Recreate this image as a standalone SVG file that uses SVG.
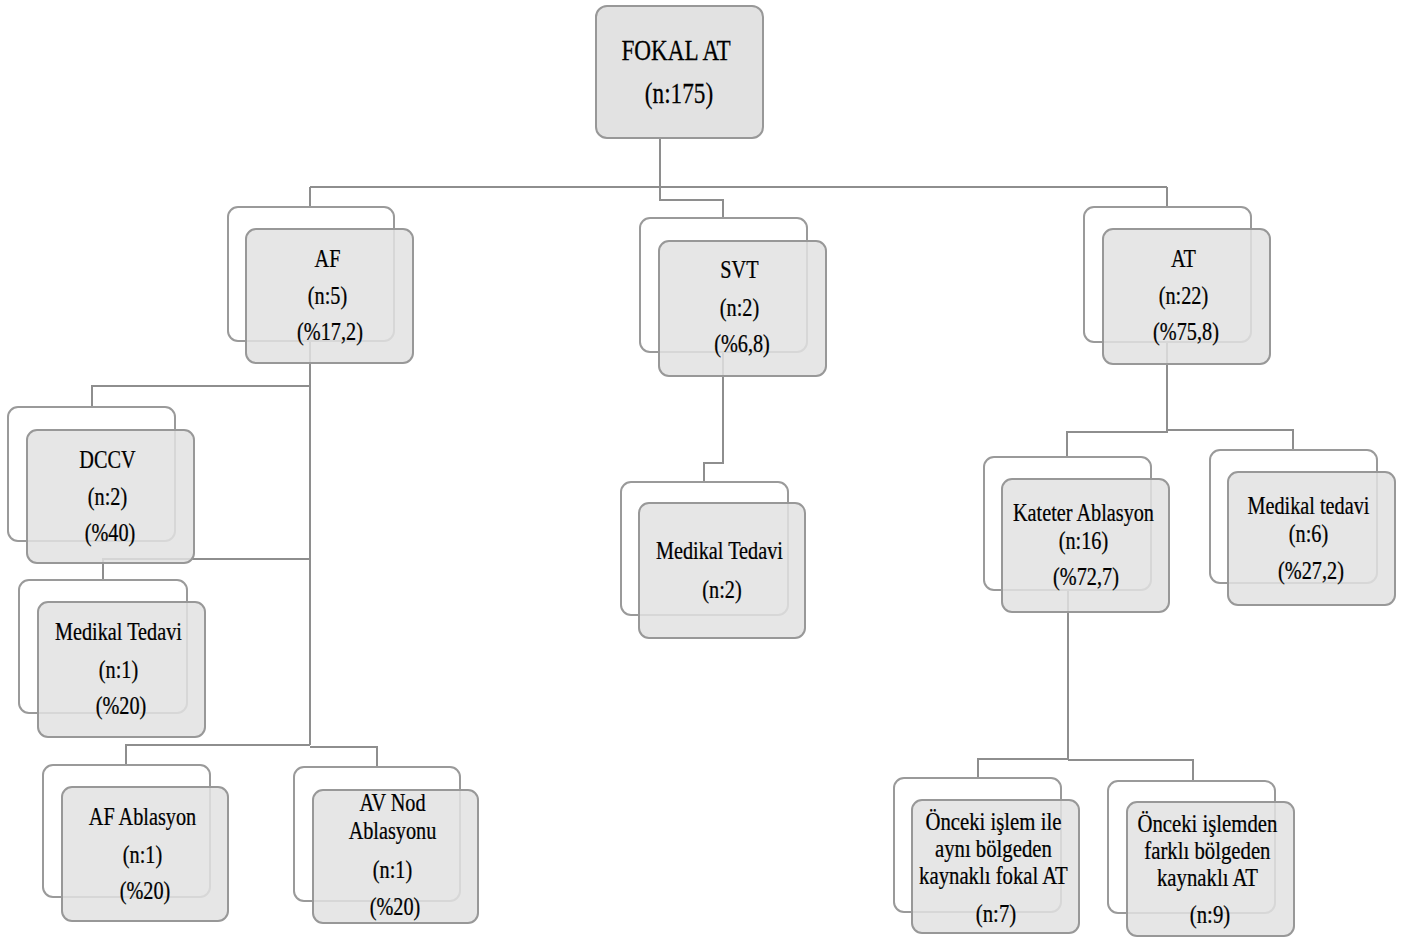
<svg xmlns="http://www.w3.org/2000/svg" width="1407" height="940" viewBox="0 0 1407 940">
  <style>
    .bg { fill: #ffffff; }
    .back { fill: #ffffff; stroke: #9a9a9a; stroke-width: 2; }
    .front { fill: #e2e2e2; fill-opacity: 0.85; stroke: #989898; stroke-width: 2; }
    .root { fill: #e2e2e2; stroke: #989898; stroke-width: 2; }
    .link { fill: none; stroke: #8e8e8e; stroke-width: 2; }
    .t { font-family: "Liberation Serif", "Times New Roman", serif; font-size: 25px; fill: #000000; stroke: #000000; stroke-width: 0.25; text-anchor: middle; }
    .tr { font-family: "Liberation Serif", "Times New Roman", serif; font-size: 29px; fill: #000000; stroke: #000000; stroke-width: 0.25; text-anchor: middle; }
  </style>

  <rect class="bg" x="0" y="0" width="1407" height="940"/>

  <!-- connectors -->
  <g id="connectors">
    <polyline class="link" points="310,187 1167,187"/>
    <polyline class="link" points="310,187 310,207"/>
    <polyline class="link" points="1167,187 1167,207"/>
    <polyline class="link" points="660,138 660,200 723,200 723,218"/>

    <!-- AF branch -->
    <polyline class="link" points="310,341 310,745"/>
    <polyline class="link" points="310,386 92,386 92,407"/>
    <polyline class="link" points="310,559 103,559 103,580"/>
    <polyline class="link" points="310,745 126,745 126,765"/>
    <polyline class="link" points="310,747 377,747 377,767"/>

    <!-- SVT branch -->
    <polyline class="link" points="723,352 723,463 704,463 704,482"/>

    <!-- AT branch -->
    <polyline class="link" points="1167,342 1167,432 1067,432 1067,457"/>
    <polyline class="link" points="1167,430 1293,430 1293,450"/>

    <!-- Kateter Ablasyon branch -->
    <polyline class="link" points="1068,590 1068,759 978,759 978,778"/>
    <polyline class="link" points="1068,760 1193,760 1193,781"/>
  </g>

  <!-- root -->
  <g id="node-fokal-at">
    <rect class="root" x="596" y="6" width="167" height="132" rx="11"/>
    <text class="tr" transform="translate(679 0) scale(0.8 1)">
      <tspan x="0" y="60">FOKAL AT</tspan>
      <tspan x="0" y="103">(n:175)</tspan>
    </text>
  </g>

  <!-- level 1 -->
  <g id="node-af">
    <rect class="back" x="228" y="207" width="166" height="134" rx="10"/>
    <rect class="front" x="246" y="229" width="167" height="134" rx="10"/>
    <text class="t" transform="translate(330 0) scale(0.81 1)">
      <tspan x="0" y="267">AF</tspan>
      <tspan x="0" y="304">(n:5)</tspan>
      <tspan x="0" y="340">(%17,2)</tspan>
    </text>
  </g>

  <g id="node-svt">
    <rect class="back" x="640" y="218" width="167" height="134" rx="10"/>
    <rect class="front" x="659" y="241" width="167" height="135" rx="10"/>
    <text class="t" transform="translate(742 0) scale(0.81 1)">
      <tspan x="0" y="278">SVT</tspan>
      <tspan x="0" y="316">(n:2)</tspan>
      <tspan x="0" y="352">(%6,8)</tspan>
    </text>
  </g>

  <g id="node-at">
    <rect class="back" x="1084" y="207" width="167" height="135" rx="10"/>
    <rect class="front" x="1103" y="229" width="167" height="135" rx="10"/>
    <text class="t" transform="translate(1186 0) scale(0.81 1)">
      <tspan x="0" y="267">AT</tspan>
      <tspan x="0" y="304">(n:22)</tspan>
      <tspan x="0" y="340">(%75,8)</tspan>
    </text>
  </g>

  <!-- AF children -->
  <g id="node-dccv">
    <rect class="back" x="8" y="407" width="167" height="134" rx="10"/>
    <rect class="front" x="27" y="430" width="167" height="133" rx="10"/>
    <text class="t" transform="translate(110 0) scale(0.81 1)">
      <tspan x="0" y="468">DCCV</tspan>
      <tspan x="0" y="505">(n:2)</tspan>
      <tspan x="0" y="541">(%40)</tspan>
    </text>
  </g>

  <g id="node-af-medikal">
    <rect class="back" x="19" y="580" width="168" height="133" rx="10"/>
    <rect class="front" x="38" y="602" width="167" height="135" rx="10"/>
    <text class="t" transform="translate(121 0) scale(0.81 1)">
      <tspan x="0" y="640">Medikal Tedavi</tspan>
      <tspan x="0" y="678">(n:1)</tspan>
      <tspan x="0" y="714">(%20)</tspan>
    </text>
  </g>

  <g id="node-af-ablasyon">
    <rect class="back" x="43" y="765" width="167" height="132" rx="10"/>
    <rect class="front" x="62" y="787" width="166" height="134" rx="10"/>
    <text class="t" transform="translate(145 0) scale(0.81 1)">
      <tspan x="0" y="825">AF Ablasyon</tspan>
      <tspan x="0" y="863">(n:1)</tspan>
      <tspan x="0" y="899">(%20)</tspan>
    </text>
  </g>

  <g id="node-av-nod">
    <rect class="back" x="294" y="767" width="166" height="134" rx="10"/>
    <rect class="front" x="313" y="790" width="165" height="133" rx="10"/>
    <text class="t" transform="translate(395 0) scale(0.81 1)">
      <tspan x="0" y="811">AV Nod</tspan>
      <tspan x="0" y="839">Ablasyonu</tspan>
      <tspan x="0" y="878">(n:1)</tspan>
      <tspan x="0" y="915">(%20)</tspan>
    </text>
  </g>

  <!-- SVT child -->
  <g id="node-svt-medikal">
    <rect class="back" x="621" y="482" width="167" height="133" rx="10"/>
    <rect class="front" x="639" y="503" width="166" height="135" rx="10"/>
    <text class="t" transform="translate(722 0) scale(0.81 1)">
      <tspan x="0" y="559">Medikal Tedavi</tspan>
      <tspan x="0" y="598">(n:2)</tspan>
    </text>
  </g>

  <!-- AT children -->
  <g id="node-kateter">
    <rect class="back" x="984" y="457" width="167" height="133" rx="10"/>
    <rect class="front" x="1002" y="479" width="167" height="133" rx="10"/>
    <text class="t" transform="translate(1086 0) scale(0.81 1)">
      <tspan x="0" y="521">Kateter Ablasyon</tspan>
      <tspan x="0" y="549">(n:16)</tspan>
      <tspan x="0" y="585">(%72,7)</tspan>
    </text>
  </g>

  <g id="node-at-medikal">
    <rect class="back" x="1210" y="450" width="167" height="133" rx="10"/>
    <rect class="front" x="1228" y="472" width="167" height="133" rx="10"/>
    <text class="t" transform="translate(1311 0) scale(0.81 1)">
      <tspan x="0" y="514">Medikal tedavi</tspan>
      <tspan x="0" y="542">(n:6)</tspan>
      <tspan x="0" y="579">(%27,2)</tspan>
    </text>
  </g>

  <!-- Kateter Ablasyon children -->
  <g id="node-ayni-bolge">
    <rect class="back" x="894" y="778" width="167" height="134" rx="10"/>
    <rect class="front" x="912" y="800" width="167" height="133" rx="10"/>
    <text class="t" transform="translate(996 0) scale(0.83 1)">
      <tspan x="0" y="830">Önceki işlem ile</tspan>
      <tspan x="0" y="857">aynı bölgeden</tspan>
      <tspan x="0" y="884">kaynaklı fokal AT</tspan>
      <tspan x="0" y="922">(n:7)</tspan>
    </text>
  </g>

  <g id="node-farkli-bolge">
    <rect class="back" x="1108" y="781" width="167" height="132" rx="10"/>
    <rect class="front" x="1127" y="802" width="167" height="134" rx="10"/>
    <text class="t" transform="translate(1210 0) scale(0.83 1)">
      <tspan x="0" y="832">Önceki işlemden</tspan>
      <tspan x="0" y="859">farklı bölgeden</tspan>
      <tspan x="0" y="886">kaynaklı AT</tspan>
      <tspan x="0" y="923">(n:9)</tspan>
    </text>
  </g>
</svg>
